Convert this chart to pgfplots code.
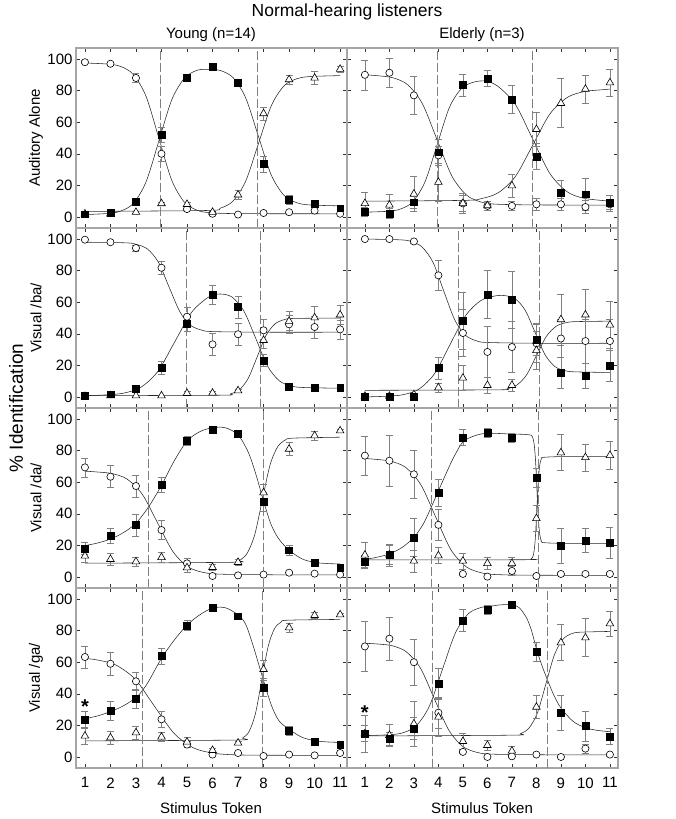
\documentclass[border=0pt]{standalone}
\usepackage{fontspec}
\setmainfont{Liberation Sans}
\usepackage{pgfplots}
\pgfplotsset{compat=1.18}
\pgfplotsset{
  panel/.style={
    scale only axis, width=271pt, height=180pt, anchor=south west,
    ymin=-7, ymax=107,
    xtick={1,2,...,11}, ytick={0,20,...,100},
    tick align=inside, major tick length=4pt,
    axis line style={black!35, line width=1.2pt},
    tick style={black!80, line width=0.5pt},
    /pgf/number format/assume math mode=true,
    tick label style={font=\fontsize{15}{18}\selectfont},
    xticklabel style={yshift=-6pt},
    clip=false,
  },
  leftcol/.style={xmin=0.65, xmax=11.27},
  rightcol/.style={xmin=0.27, xmax=11.33, yticklabels={,,,,,,}},
  nox/.style={xticklabels={,,,,,,,,,,,}},
  fitcurve/.style={black!85, line width=0.55pt, smooth, mark=none},
  vline/.style={black!50, line width=0.6pt, dash pattern=on 9pt off 3pt},
  ebar/.style={error bars/.cd, y dir=both, y explicit,
    error bar style={black!50, line width=0.6pt},
    error mark options={black!50, line width=0.6pt, mark size=3.5pt, rotate=90}},
  circ/.style={only marks, mark=*, mark size=3.6pt, mark options={fill=white, draw=black, line width=0.6pt}, ebar},
  sq/.style={only marks, mark=square*, mark size=3.4pt, mark options={fill=black, draw=black}, ebar},
  tri/.style={only marks, mark=triangle*, mark size=4.4pt, mark options={fill=white, draw=black, line width=0.6pt}, ebar},
}
\begin{document}
\begin{tikzpicture}
\useasboundingbox (0,0) rectangle (675pt,819pt);

% ---------- Row 1: Auditory Alone, Young ----------
\begin{axis}[panel, leftcol, nox, at={(76pt,591pt)}]
\addplot[fitcurve] coordinates {(1,97.5)(1.9,96.8)(2.4,95.3)(2.9,90.2)(3.4,76.2)(3.9,49.75)(4.4,23.3)(4.9,9.3)(5.4,4.2)(5.9,2.7)(7,2.1)(11,2)};
\addplot[fitcurve] coordinates {(1,1.5)(1.9,2.2)(2.4,3.7)(2.9,8.6)(3.4,22.4)(3.9,48.25)(4.4,74.1)(4.9,87.9)(5.4,92.9)(5.9,93.5)(6.3,92.8)(6.8,88.3)(7.3,75.4)(7.8,51)(8.3,26.6)(8.8,13.7)(9.3,9)(9.8,7.6)(11,7)};
\addplot[fitcurve] coordinates {(1,3.5)(5.8,4.1)(6.3,5.5)(6.8,10)(7.3,22.7)(7.8,46.5)(8.3,70.3)(8.8,83)(9.3,87.5)(9.8,88.9)(11,89.5)};
\addplot[vline] coordinates {(3.94,-7)(3.94,107)};
\addplot[vline] coordinates {(7.75,-7)(7.75,107)};
\addplot[circ] coordinates {(1,98)+-(0,1) (2,97)+-(0,1) (3,88)+-(0,3) (4,40)+-(0,5) (5,5)+-(0,1) (6,2)+-(0,0.5) (7,1.5)+-(0,0.5) (8,2.5)+-(0,0.5) (9,3)+-(0,0.5) (10,4)+-(0,1) (11,2)+-(0,0.5)};
\addplot[tri] coordinates {(1,2)+-(0,0.5) (2,2)+-(0,0.5) (3,3)+-(0,0.5) (4,8.5)+-(0,1) (5,8)+-(0,1) (6,3)+-(0,0.5) (7,14)+-(0,3) (8,65.5)+-(0,4) (9,87)+-(0,3) (10,88)+-(0,4) (11,93.6)+-(0,2)};
\addplot[sq] coordinates {(1,1.7)+-(0,0.5) (2,2.5)+-(0,0.5) (3,9.7)+-(0,2) (4,52)+-(0,5) (5,88)+-(0,2) (6,95)+-(0,1) (7,85)+-(0,2) (8,33.5)+-(0,5) (9,11)+-(0,3) (10,8.5)+-(0,2) (11,5.5)+-(0,1)};
\end{axis}

% ---------- Row 1: Auditory Alone, Elderly ----------
\begin{axis}[panel, rightcol, nox, at={(347pt,591pt)}]
\addplot[fitcurve] coordinates {(1,90)(1.55,89.4)(2.15,88.1)(2.75,83.7)(3.35,71.6)(3.95,48.75)(4.55,25.9)(5.15,13.8)(5.75,9.4)(6.35,8.1)(8,7.6)(11,7.5)};
\addplot[fitcurve] coordinates {(1,3)(1.95,3.6)(2.45,5)(2.95,9.5)(3.45,22.1)(3.95,45.75)(4.45,69.4)(4.95,81.5)(5.45,85.4)(5.95,86)(6.45,82.5)(7.15,71)(7.85,49.25)(8.55,27.5)(9.25,16)(9.95,11.8)(11,10)};
\addplot[fitcurve] coordinates {(1,10)(5.05,10.5)(5.75,11.6)(6.45,15.4)(7.15,25.8)(7.85,45.5)(8.55,65.2)(9.25,75.6)(9.95,79.4)(10.65,80.5)(11,81)};
\addplot[vline] coordinates {(3.97,-7)(3.97,107)};
\addplot[vline] coordinates {(7.84,-7)(7.84,107)};
\addplot[circ] coordinates {(1,90)+-(0,9.5) (2,91.3)+-(0,9) (3,77)+-(0,12) (4,39)+-(0,6) (5,8.6)+-(0,6.5) (6,7)+-(0,3) (7,7)+-(0,3) (8,8)+-(0,4) (9,8)+-(0,4) (10,6.3)+-(0,4) (11,8)+-(0,3)};
\addplot[tri] coordinates {(1,8.6)+-(0,7) (2,7.6)+-(0,7) (3,14.6)+-(0,11) (4,22)+-(0,12) (5,8.6)+-(0,5) (6,7.2)+-(0,3) (7,19.8)+-(0,7.5) (8,55.5)+-(0,11) (9,72)+-(0,15.5) (10,81)+-(0,9) (11,85)+-(0,8.5)};
\addplot[sq] coordinates {(1,3.4)+-(0,3) (2,2.3)+-(0,3) (3,9.3)+-(0,4) (4,41)+-(0,8) (5,83.5)+-(0,7) (6,87.8)+-(0,5) (7,74.5)+-(0,9) (8,38.4)+-(0,8) (9,15.4)+-(0,7.5) (10,14.4)+-(0,10) (11,8.8)+-(0,5)};
\end{axis}

% ---------- Row 2: Visual /ba/, Young ----------
\begin{axis}[panel, leftcol, nox, at={(76pt,411pt)}]
\addplot[fitcurve] coordinates {(1,98)(2.6,97.6)(3,96.7)(3.45,93.7)(3.88,85.3)(4.3,69.5)(4.73,53.7)(5.15,45.3)(5.58,42.3)(6,41.4)(8,41)(11,41)};
\addplot[fitcurve] coordinates {(1,0.8)(1.84,1.3)(2.51,2.4)(3.18,6)(3.85,16)(4.52,34.9)(5.19,53.8)(5.86,63.4)(6.31,65.2)(6.77,63.2)(7.23,54.4)(7.69,37.25)(8.15,19.7)(8.61,10.3)(9.07,7)(9.53,6)(11,5.5)};
\addplot[fitcurve] coordinates {(1,0.8)(6.35,1.1)(6.7,1.9)(7.05,4.5)(7.4,11.8)(7.75,25.4)(8.1,39)(8.45,46.3)(8.8,48.9)(9.15,49.7)(11,50)};
\addplot[vline] coordinates {(4.99,-7)(4.99,107)};
\addplot[vline] coordinates {(7.89,-7)(7.89,107)};
\addplot[circ] coordinates {(1,99.6)+-(0,0.5) (2,98)+-(0,0.5) (3,94.3)+-(0,2) (4,81.8)+-(0,4) (5,50.8)+-(0,6) (6,33.3)+-(0,7) (7,39.7)+-(0,7) (8,42.2)+-(0,7) (9,46)+-(0,6) (10,44.3)+-(0,7) (11,42.8)+-(0,6)};
\addplot[tri] coordinates {(1,0.4)+-(0,0.3) (2,0.8)+-(0,0.3) (3,0.8)+-(0,0.3) (4,0.8)+-(0,0.3) (5,2.3)+-(0,1) (6,2.5)+-(0,1) (7,4)+-(0,1) (8,35.9)+-(0,5) (9,48)+-(0,6) (10,50.2)+-(0,7) (11,52)+-(0,6)};
\addplot[sq] coordinates {(1,0.6)+-(0,0.3) (2,1.7)+-(0,0.5) (3,5.3)+-(0,1) (4,18.4)+-(0,4) (5,46.4)+-(0,5) (6,64.8)+-(0,6) (7,57)+-(0,7) (8,23.2)+-(0,4) (9,6.3)+-(0,1) (10,6)+-(0,1) (11,5.9)+-(0,1)};
\end{axis}

% ---------- Row 2: Visual /ba/, Elderly ----------
\begin{axis}[panel, rightcol, nox, at={(347pt,411pt)}]
\addplot[fitcurve] coordinates {(1,100)(2.44,99.5)(2.89,98.5)(3.33,95)(3.78,85.3)(4.22,67)(4.67,48.7)(5.11,39)(5.56,35.5)(6,34.5)(8,34)(11,34)};
\addplot[fitcurve] coordinates {(1,0)(1.95,0.5)(2.58,1.5)(3.21,5)(3.84,14.7)(4.47,33)(5.1,51.3)(5.73,61)(6.36,64.1)(6.75,64.1)(7.15,62)(7.55,54.7)(7.95,40.75)(8.35,26.8)(8.75,19.3)(9.15,16.7)(9.55,15.9)(11,15.5)};
\addplot[fitcurve] coordinates {(1,4.2)(6.4,4.5)(6.8,5.2)(7.2,7.5)(7.6,14)(8,26.1)(8.4,38.2)(8.8,44.7)(9.2,47)(9.6,47.7)(11,48)};
\addplot[vline] coordinates {(4.81,-7)(4.81,107)};
\addplot[vline] coordinates {(8.10,-7)(8.10,107)};
\addplot[circ] coordinates {(1,100)+-(0,0) (2,100)+-(0,0) (3,98.5)+-(0,1) (4,77)+-(0,9.5) (5,40.5)+-(0,15) (6,28.5)+-(0,16) (7,31.6)+-(0,16) (8,34)+-(0,12) (9,37)+-(0,12) (10,35.4)+-(0,14) (11,35.4)+-(0,14)};
\addplot[tri] coordinates {(1,0.5)+-(0,0.5) (2,0.5)+-(0,0.5) (3,1.5)+-(0,1) (4,5.9)+-(0,3) (5,12)+-(0,8) (6,7.4)+-(0,5) (7,7.4)+-(0,4) (8,29.5)+-(0,12) (9,49)+-(0,16) (10,52)+-(0,16) (11,45.6)+-(0,15)};
\addplot[sq] coordinates {(1,0)+-(0,0) (2,0)+-(0,0) (3,0)+-(0,0.5) (4,18.4)+-(0,7) (5,48.3)+-(0,18) (6,65)+-(0,15.5) (7,61.6)+-(0,18) (8,36.5)+-(0,10) (9,15.2)+-(0,10) (10,13.3)+-(0,8) (11,19.6)+-(0,10)};
\end{axis}

% ---------- Row 3: Visual /da/, Young ----------
\begin{axis}[panel, leftcol, nox, at={(76pt,231pt)}]
\addplot[fitcurve] coordinates {(1,67)(1.45,66.5)(2.05,65.5)(2.65,62)(3.25,52.3)(3.85,34.15)(4.45,16)(5.05,6.3)(5.65,2.8)(6.25,1.8)(8,1.4)(11,1.3)};
\addplot[fitcurve] coordinates {(1,19.8)(1.5,21.5)(2,24)(2.5,28)(3,34)(3.5,44.5)(4,58)(4.5,73.5)(5,86)(5.5,92)(6,94.5)(6.5,94.5)(7,90)(7.4,79)(7.7,65)(8,48)(8.3,33)(8.6,24)(9,17)(9.5,11.5)(10,9.2)(10.5,8.5)(11,8.2)};
\addplot[fitcurve] coordinates {(1,8.7)(6.75,9.3)(7.05,10.5)(7.35,14.8)(7.65,26.5)(7.95,48.6)(8.25,70.7)(8.55,82.4)(8.85,86.7)(9.15,87.9)(11,88.5)};
\addplot[vline] coordinates {(3.5,-7)(3.5,107)};
\addplot[vline] coordinates {(7.99,-7)(7.99,107)};
\addplot[circ] coordinates {(1,69.4)+-(0,6) (2,63.5)+-(0,7) (3,57.6)+-(0,7) (4,29.7)+-(0,6) (5,8.6)+-(0,3) (6,0.6)+-(0,0.5) (7,1)+-(0,0.5) (8,1.5)+-(0,0.5) (9,2.7)+-(0,1) (10,2.1)+-(0,0.5) (11,1.5)+-(0,0.5)};
\addplot[tri] coordinates {(1,13.3)+-(0,4) (2,11.2)+-(0,4) (3,9.7)+-(0,3) (4,12.4)+-(0,3) (5,5.9)+-(0,3) (6,6.1)+-(0,2) (7,9.3)+-(0,2) (8,53.4)+-(0,5) (9,81)+-(0,4) (10,89.5)+-(0,3) (11,92.6)+-(0,1)};
\addplot[sq] coordinates {(1,18.1)+-(0,4) (2,26)+-(0,5) (3,32.9)+-(0,7) (4,58.4)+-(0,5) (5,86.3)+-(0,3) (6,93.5)+-(0,2) (7,90.5)+-(0,2) (8,47.5)+-(0,6) (9,17)+-(0,3) (10,9)+-(0,1.5) (11,6.1)+-(0,1)};
\end{axis}

% ---------- Row 3: Visual /da/, Elderly ----------
\begin{axis}[panel, rightcol, nox, at={(347pt,231pt)}]
\addplot[fitcurve] coordinates {(1,75)(1.43,74.5)(2.05,73.3)(2.66,69.4)(3.28,58.5)(3.89,38)(4.5,17.5)(5.12,6.6)(5.73,2.7)(6.35,1.5)(8,1.1)(11,1)};
\addplot[fitcurve] coordinates {(1,11)(1.5,12.5)(2,14.6)(2.5,18.5)(3,25)(3.4,34)(3.73,45)(4,54.5)(4.3,65)(4.6,75)(5,85.5)(5.5,89.5)(6,91)(7,90.5)(7.5,90.3)(7.78,89.8)(7.84,88.7)(7.9,85)(7.96,74.9)(8.02,55.8)(8.08,36.7)(8.14,26.5)(8.2,22.9)(8.26,21.8)(9,21.3)(11,21.3)};
\addplot[fitcurve] coordinates {(1,10.8)(7.5,10.9)(7.78,11.3)(7.84,12.3)(7.9,15.8)(7.96,25.4)(8.02,43.5)(8.08,61.6)(8.14,71.2)(8.2,74.7)(8.26,75.7)(9,76.2)(11,76.2)};
\addplot[vline] coordinates {(3.73,-7)(3.73,107)};
\addplot[vline] coordinates {(8.07,-7)(8.07,107)};
\addplot[circ] coordinates {(1,76.8)+-(0,12.4) (2,73.6)+-(0,16) (3,65)+-(0,15) (4,33)+-(0,10) (5,1.9)+-(0,1) (6,0.2)+-(0,0.5) (7,3.8)+-(0,3) (8,0.6)+-(0,0.5) (9,1.9)+-(0,1) (10,1.9)+-(0,1) (11,1.9)+-(0,1)};
\addplot[tri] coordinates {(1,13.9)+-(0,8) (2,13.9)+-(0,7) (3,10.1)+-(0,7) (4,13.5)+-(0,5) (5,10.1)+-(0,5) (6,8.6)+-(0,4) (7,8.6)+-(0,4) (8,37.1)+-(0,8) (9,78.7)+-(0,11.4) (10,75.7)+-(0,8.5) (11,77)+-(0,9)};
\addplot[sq] coordinates {(1,9.7)+-(0,4) (2,13.9)+-(0,6) (3,25)+-(0,12) (4,53.4)+-(0,8.5) (5,88.2)+-(0,5) (6,91.4)+-(0,3) (7,88.2)+-(0,3) (8,63)+-(0,6) (9,19.8)+-(0,11) (10,23)+-(0,7.7) (11,21.5)+-(0,10)};
\end{axis}

% ---------- Row 4: Visual /ga/, Young ----------
\begin{axis}[panel, leftcol, at={(76pt,51pt)}]
\addplot[fitcurve] coordinates {(1,62.3)(1.43,61.6)(2.2,58.3)(2.97,49.2)(3.73,32)(4.5,14.8)(5.26,5.7)(6.03,2.4)(6.79,1.4)(8,1.1)(11,1)};
\addplot[fitcurve] coordinates {(1,24.2)(1.5,26)(2,28.7)(2.5,32.3)(3,37.5)(3.25,42)(3.5,48)(4,62.5)(4.5,74)(5,83.5)(5.5,90)(6,94.3)(6.5,94.5)(7,90)(7.3,84)(7.6,70)(7.95,51)(8.3,33)(8.6,23)(9,17.5)(9.5,12.5)(10,10.3)(10.5,9.5)(11,9.2)};
\addplot[fitcurve] coordinates {(1,10.2)(6.93,10.7)(7.18,12)(7.43,16)(7.68,27.3)(7.93,48.7)(8.18,70)(8.43,81.3)(8.68,85.3)(8.93,86.6)(11,87.1)};
\addplot[vline] coordinates {(3.25,-7)(3.25,107)};
\addplot[vline] coordinates {(7.95,-7)(7.95,107)};
\addplot[circ] coordinates {(1,63.3)+-(0,7) (2,59)+-(0,7) (3,47.9)+-(0,6) (4,23.8)+-(0,5) (5,7.8)+-(0,2) (6,1.5)+-(0,0.5) (7,2.5)+-(0,0.5) (8,0.6)+-(0,0.5) (9,1.5)+-(0,0.5) (10,1)+-(0,0.5) (11,2.5)+-(0,0.5)};
\addplot[tri] coordinates {(1,13.3)+-(0,5) (2,12.2)+-(0,4) (3,15.4)+-(0,4) (4,12.7)+-(0,3) (5,9.5)+-(0,3) (6,4.2)+-(0,1) (7,8.9)+-(0,1) (8,55.5)+-(0,6) (9,81.9)+-(0,3) (10,89.7)+-(0,2) (11,90.1)+-(0,1)};
\addplot[sq] coordinates {(1,23.8)+-(0,5) (2,29.5)+-(0,6) (3,36.9)+-(0,6) (4,63.9)+-(0,5) (5,83.3)+-(0,3) (6,94.5)+-(0,1) (7,89.2)+-(0,1) (8,43.7)+-(0,5) (9,16.5)+-(0,3) (10,9.9)+-(0,1) (11,8)+-(0,1)};
\node[font=\fontsize{20}{20}\selectfont\bfseries] at (axis cs:1,32) {*};
\end{axis}

% ---------- Row 4: Visual /ga/, Elderly ----------
\begin{axis}[panel, rightcol, at={(347pt,51pt)}]
\addplot[fitcurve] coordinates {(1,72)(1.54,71.5)(2.12,70.4)(2.69,66.6)(3.27,56.2)(3.84,36.65)(4.42,17.1)(4.99,6.7)(5.57,2.9)(6.14,1.8)(8,1.4)(11,1.3)};
\addplot[fitcurve] coordinates {(1,13.5)(2.04,14.1)(2.57,15.4)(3.1,19.8)(3.63,32.1)(4.16,55.25)(4.69,78.4)(5.22,90.7)(5.75,94.7)(6.28,95.8)(6.5,96.3)(7,96.4)(7.3,94.5)(7.6,88)(7.8,80)(8,68.6)(8.2,59)(8.43,49.6)(8.7,39.5)(9,31)(9.5,22.5)(10,18.5)(10.5,16.8)(11,16)};
\addplot[fitcurve] coordinates {(1,13.3)(7.01,13.8)(7.355,14.8)(7.7,18.3)(8.045,28.1)(8.39,46.4)(8.735,64.7)(9.08,74.5)(9.425,78)(9.77,79)(11,79.5)};
\addplot[vline] coordinates {(3.75,-7)(3.75,107)};
\addplot[vline] coordinates {(8.43,-7)(8.43,107)};
\addplot[circ] coordinates {(1,70)+-(0,16) (2,74.9)+-(0,13.4) (3,60)+-(0,14.5) (4,28)+-(0,10) (5,3.2)+-(0,1) (6,0)+-(0,0.5) (7,0.4)+-(0,0.5) (8,1.5)+-(0,0.5) (9,0)+-(0,0.5) (10,5.3)+-(0,3) (11,1.5)+-(0,1)};
\addplot[tri] coordinates {(1,14.8)+-(0,11.6) (2,13.7)+-(0,7) (3,21)+-(0,14) (4,25.3)+-(0,12) (5,9.9)+-(0,5) (6,7.4)+-(0,3) (7,3.8)+-(0,3) (8,31.6)+-(0,7.4) (9,72.4)+-(0,11.4) (10,75.5)+-(0,12) (11,84.4)+-(0,8)};
\addplot[sq] coordinates {(1,14.8)+-(0,5) (2,11.6)+-(0,4) (3,17.9)+-(0,7) (4,46.4)+-(0,10) (5,86.5)+-(0,7) (6,93.2)+-(0,3) (7,96.6)+-(0,1) (8,66.5)+-(0,6) (9,27.8)+-(0,11) (10,19.6)+-(0,9.5) (11,13)+-(0,5)};
\node[font=\fontsize{20}{20}\selectfont\bfseries] at (axis cs:1,28) {*};
\end{axis}

% ---------- Texts ----------
\node[font=\fontsize{17.5}{20}\selectfont] at (347pt,807pt) {Normal-hearing listeners};
\node[font=\fontsize{15}{18}\selectfont] at (211pt,784pt) {Young (n=14)};
\node[font=\fontsize{15}{18}\selectfont] at (482pt,784pt) {Elderly (n=3)};
\node[rotate=90, font=\fontsize{19}{22}\selectfont] at (16pt,411pt) {\% Identification};
\node[rotate=90, font=\fontsize{15}{18}\selectfont] at (36pt,681pt) {Auditory Alone};
\node[rotate=90, font=\fontsize{15}{18}\selectfont] at (36pt,501pt) {Visual /ba/};
\node[rotate=90, font=\fontsize{15}{18}\selectfont] at (36pt,321pt) {Visual /da/};
\node[rotate=90, font=\fontsize{15}{18}\selectfont] at (36pt,141pt) {Visual /ga/};
\node[font=\fontsize{15}{18}\selectfont] at (211pt,11pt) {Stimulus Token};
\node[font=\fontsize{15}{18}\selectfont] at (482pt,11pt) {Stimulus Token};
\end{tikzpicture}
\end{document}
